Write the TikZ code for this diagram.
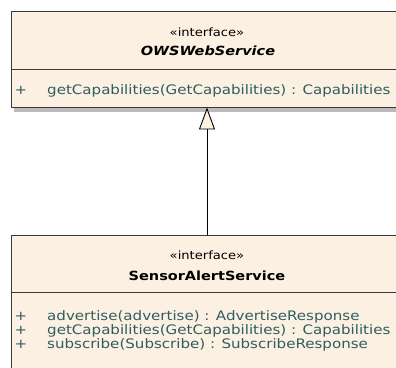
\documentclass[tikz,border=0pt]{standalone}
\usepackage{fontspec}
\setmainfont[FakeStretch=1.15]{DejaVu Sans}
\usetikzlibrary{arrows.meta,shadows}
\definecolor{umlfill}{HTML}{FBF0E2}
\definecolor{umlline}{HTML}{3A3A3A}
\definecolor{optext}{HTML}{2E5E5E}
\begin{document}
\begin{tikzpicture}[x=1pt,y=-1pt,
  umlbox/.style={draw=umlline,line width=0.9pt,fill=umlfill,rectangle,inner sep=0pt,
    drop shadow={shadow xshift=3pt,shadow yshift=-5pt,opacity=0.45,fill=black!60}},
  stereo/.style={font=\fontsize{11.4}{13}\selectfont,anchor=base,inner sep=0pt},
  title/.style={font=\fontsize{12.6}{14}\selectfont\bfseries,anchor=base,inner sep=0pt},
  vis/.style={font=\fontsize{13.1}{15}\selectfont,text=optext,anchor=base,inner sep=0pt},
  op/.style={font=\fontsize{13.1}{15}\selectfont,text=optext,anchor=base west,inner sep=0pt},
  realize/.style={draw=black,line width=0.9pt,-{Triangle[open,length=22pt,width=16pt,fill=umlfill]}}]
\useasboundingbox (0,0) rectangle (396,367);
\clip (0,0) rectangle (396,367);
\fill[white] (0,0) rectangle (396,367);
% top interface
\node[umlbox,minimum width=409pt,minimum height=96pt] (ows) at (215.5,59) {};
\draw[umlline,line width=0.8pt] (ows.west |- 0,69) -- (ows.east |- 0,69);
\node[stereo] (owsst) at (207,36) {«interface»};
\node[title] (owsname) at (208,55) {\itshape OWSWebService};
\node[vis] (owsv1) at (21,94) {+};
\node[op] (owsop1) at (47,94) {getCapabilities(GetCapabilities) : Capabilities};
% bottom interface
\node[umlbox,minimum width=409pt,minimum height=145pt] (sas) at (215.5,307.5) {};
\draw[umlline,line width=0.8pt] (sas.west |- 0,292) -- (sas.east |- 0,292);
\node[stereo] (sasst) at (207,259) {«interface»};
\node[title] (sasname) at (207,280) {SensorAlertService};
\node[vis] (sasv1) at (21,320) {+};
\node[op] (sasop1) at (47,320) {advertise(advertise) : AdvertiseResponse};
\node[vis] (sasv2) at (21,334) {+};
\node[op] (sasop2) at (47,334) {getCapabilities(GetCapabilities) : Capabilities};
\node[vis] (sasv3) at (21,348) {+};
\node[op] (sasop3) at (47,348) {subscribe(Subscribe) : SubscribeResponse};
% realization
\coordinate (ax) at (207,0);
\draw[realize] (sas.north -| ax) -- (ows.south -| ax);
\end{tikzpicture}
\end{document}
